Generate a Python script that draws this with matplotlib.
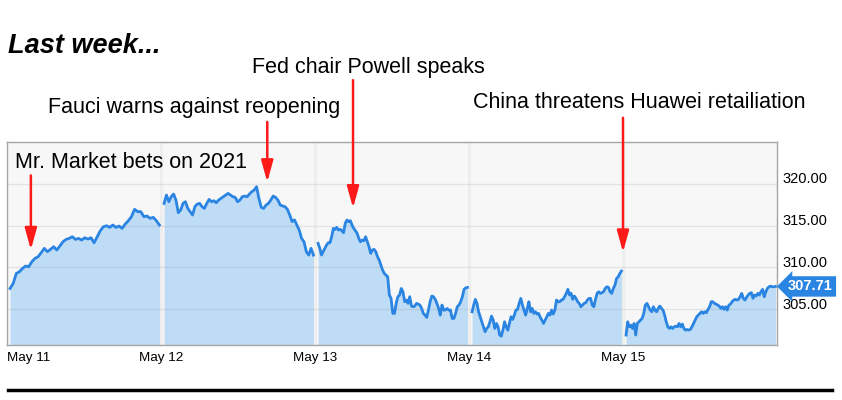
import numpy as np
import matplotlib
matplotlib.use('Agg')
import matplotlib.pyplot as plt
import matplotlib.transforms as mtransforms
from matplotlib.lines import Line2D

plt.rcParams['font.family'] = ['Liberation Sans', 'DejaVu Sans']

days = ['May 11', 'May 12', 'May 13', 'May 14', 'May 15']

may11 = [307.47, 308.07, 309.27, 309.47, 309.87, 310.15, 310.07, 310.67, 311.07, 311.27,
         311.75, 312.27, 311.87, 312.15, 312.47, 312.07, 312.55, 313.06, 313.34, 313.46,
         313.66, 313.34, 313.46, 313.26, 313.54, 313.38, 313.54, 312.94, 313.66, 314.38,
         314.86, 314.98, 314.78, 315.06, 314.78, 314.94, 314.66, 315.18, 315.58, 316.06,
         316.94, 316.66, 316.66, 316.06, 316.14, 315.86, 315.98, 315.58, 315.06]
may12 = [317.65, 318.65, 317.85, 318.45, 318.77, 318.05, 316.54, 316.86, 317.65, 317.85,
         317.05, 316.66, 316.26, 317.26, 317.57, 317.65, 317.26, 317.05, 317.65, 318.13,
         317.85, 317.97, 317.73, 318.05, 318.25, 318.45, 318.65, 318.85, 318.65, 318.45,
         318.37, 317.85, 318.05, 318.45, 318.53, 318.45, 318.77, 319.05, 319.25, 319.65,
         318.25, 317.17, 317.05, 317.45, 317.65, 318.05, 318.53, 318.37, 318.05, 317.45,
         317.34, 317.26, 316.94, 316.26, 315.47, 315.67, 315.06, 314.46, 313.46, 313.06,
         311.86, 311.46, 312.27, 311.46]
may13 = [312.86, 312.27, 311.47, 311.87, 312.27, 312.66, 312.94, 312.94, 313.66, 314.66,
         314.54, 314.78, 314.46, 314.54, 314.38, 314.14, 315.26, 315.66, 315.46, 315.58,
         315.06, 314.66, 314.38, 314.06, 313.46, 313.06, 313.26, 313.18, 313.66, 313.06,
         312.47, 311.67, 312.07, 312.15, 311.87, 311.27, 310.87, 310.27, 309.67, 309.27,
         309.07, 308.87, 306.68, 306.28, 304.48, 304.48, 305.68, 306.48, 306.68, 307.47,
         307.08, 305.88, 306.08, 305.68, 306.48, 305.36, 305.28, 305.36, 305.68, 305.60,
         305.48, 305.08, 304.48, 304.28, 304.00, 304.88, 305.88, 306.56, 306.48, 306.16,
         305.68, 305.08, 304.28, 305.48, 304.88, 304.88, 305.08, 304.88, 304.88, 303.88,
         303.88, 304.48, 305.28, 305.48, 305.88, 306.48, 307.36, 307.55, 307.59]
may14 = [304.68, 305.48, 306.16, 305.68, 304.68, 304.08, 303.48, 302.88, 302.29, 302.68,
         302.88, 303.48, 304.16, 303.68, 302.68, 303.28, 302.88, 301.89, 301.77, 302.48,
         303.48, 302.88, 302.48, 303.28, 304.08, 303.76, 304.28, 304.88, 304.96, 305.68,
         306.28, 305.48, 304.88, 304.28, 305.08, 305.88, 304.68, 305.08, 304.48, 304.68,
         304.40, 304.48, 304.00, 303.68, 303.28, 303.68, 304.08, 304.48, 304.28, 304.88,
         304.40, 304.88, 306.08, 305.88, 305.88, 306.08, 306.16, 306.48, 306.88, 307.36,
         306.68, 306.88, 306.16, 306.56, 306.28, 305.88, 305.68, 305.28, 305.48, 305.68,
         305.76, 306.08, 306.28, 306.28, 305.48, 305.28, 306.16, 306.88, 307.08, 306.88,
         306.96, 307.08, 307.48, 307.67, 307.59, 307.08, 306.88, 307.48, 307.87, 308.67,
         308.87, 309.27, 309.55]
may15 = [301.89, 303.48, 302.88, 303.08, 302.68, 303.28, 301.89, 303.28, 303.48, 303.68,
         303.88, 304.48, 305.48, 305.68, 305.28, 304.88, 304.68, 305.28, 304.88, 304.68,
         305.08, 305.36, 305.08, 304.88, 304.28, 303.48, 302.88, 302.68, 302.88, 302.68,
         302.88, 302.96, 302.88, 303.28, 302.88, 303.20, 302.68, 302.48, 302.56, 302.48,
         302.56, 302.88, 303.28, 303.68, 304.08, 304.28, 304.48, 304.68, 304.48, 304.68,
         304.56, 304.96, 305.28, 305.88, 305.88, 305.68, 305.60, 305.48, 305.36, 305.08,
         305.28, 304.96, 305.28, 304.88, 305.48, 305.60, 305.88, 306.08, 306.16, 306.08,
         306.16, 306.48, 306.88, 306.28, 306.08, 306.40, 306.68, 306.88, 306.96, 306.28,
         306.68, 306.56, 306.88, 306.68, 307.08, 307.36, 306.48, 307.08, 307.48, 307.67,
         307.75, 307.67, 307.67, 307.71]
prices = [may11, may12, may13, may14, may15]
last_price = 307.71

yticks = [305, 310, 315, 320]

# events: (label, day position, price at arrow tip, price at arrow tail)
events = [
    ('Mr. Market bets on 2021', 0.155, 312.1, 321.0),
    ('Fauci warns against reopening', 1.69, 320.2, 327.4),
    ('Fed chair Powell speaks', 2.247, 317.1, 332.4),
    ('China threatens Huawei retailiation', 4.0, 311.8, 327.9),
]

line_c = '#2a84e2'
fill_c = '#bedcf5'

fig = plt.figure(figsize=(8.42, 4.0), dpi=100)
ax = fig.add_axes([7 / 842, 55 / 400, 770 / 842, 203 / 400])
ax.set_facecolor('#f7f7f7')

for d, p in enumerate(prices):
    x = d + np.linspace(0.02, 0.99, len(p))
    ax.fill_between(x, 300, p, color=fill_c, lw=0, zorder=1)
    ax.plot(x, p, color=line_c, lw=2, zorder=4, solid_joinstyle='round')

for d in range(1, 5):
    ax.axvline(d, color='#eeeeee', lw=2.2, zorder=2)
for v in yticks:
    ax.axhline(v, color=(0.55, 0.55, 0.55, 0.18), lw=1, zorder=3)

ax.set_xlim(0, 5)
ax.set_ylim(300.7, 325)
ax.set_xticks(range(5))
ax.set_xticklabels(days, fontsize=9.7)
ax.get_xticklabels()[0].set_ha('left')
ax.tick_params(axis='x', length=0, pad=5)
ax.yaxis.tick_right()
ax.set_yticks(yticks)
ax.set_yticklabels([f'{v:.2f}' for v in yticks], fontsize=10.5)
ax.tick_params(axis='y', length=0, pad=4)
off = mtransforms.ScaledTranslation(0, 6 / 100, fig.dpi_scale_trans)
for lab in ax.get_yticklabels():
    lab.set_transform(lab.get_transform() + off)
for s in ax.spines.values():
    s.set_color('#a5a5a5')
    s.set_linewidth(1)

ax.annotate(f'{last_price:.2f}', xy=(5, last_price), xytext=(8, 0),
            textcoords='offset points', va='center', ha='left', color='white',
            fontsize=10.5, fontweight='bold', annotation_clip=False, zorder=6,
            bbox=dict(boxstyle='larrow,pad=0.22', fc=line_c, ec='none'))

for i, (label, xd, tip, tail) in enumerate(events):
    ax.annotate('', xy=(xd, tip), xytext=(xd, tail), annotation_clip=False, zorder=7,
                arrowprops=dict(arrowstyle='-|>,head_length=0.65,head_width=0.18',
                                color='#ff1a1a', lw=1.8, shrinkA=0, shrinkB=0,
                                mutation_scale=20))

fig.text(15 / 842, 1 - 162 / 400, events[0][0], fontsize=15.5, va='center', ha='left')
fig.text(48 / 842, 1 - 108 / 400, events[1][0], fontsize=15.5, va='center', ha='left')
fig.text(252 / 842, 1 - 68 / 400, events[2][0], fontsize=15.5, va='center', ha='left')
fig.text(473 / 842, 1 - 103 / 400, events[3][0], fontsize=15.5, va='center', ha='left')
fig.text(8 / 842, 1 - 46 / 400, 'Last week...', fontsize=19.5, fontweight='bold',
         fontstyle='italic', va='center', ha='left')

fig.add_artist(Line2D([8 / 842, 832 / 842], [1 - 390 / 400] * 2, color='black', lw=2.5))

fig.savefig('out.png', dpi=100)
